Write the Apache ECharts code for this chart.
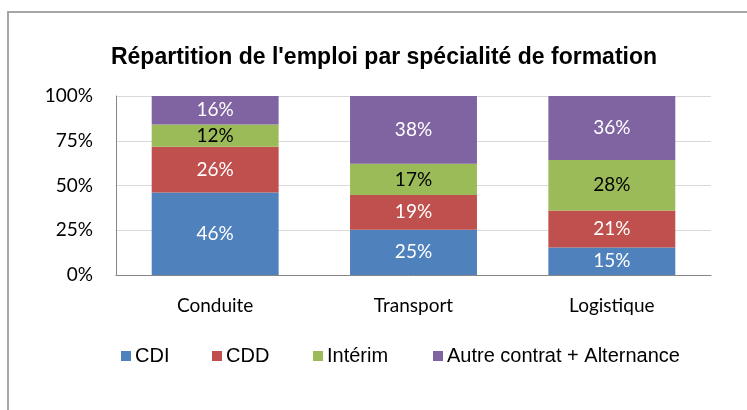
<!DOCTYPE html>
<html><head><meta charset="utf-8">
<script src="https://cdn.jsdelivr.net/npm/echarts@6/dist/echarts.min.js"></script>
<style>
html,body{margin:0;padding:0;background:#fff;overflow:hidden;}
#frame{position:absolute;left:7px;top:11px;width:760px;height:420px;border:2px solid #A6A6A6;box-sizing:border-box;}
#c{position:absolute;left:0;top:0;width:747px;height:410px;}
</style></head>
<body>
<div id="frame"></div>
<div id="c"></div>
<script>
const titleText = "Répartition de l'emploi par spécialité de formation";
const categories = ["Conduite", "Transport", "Logistique"];
const seriesNames = ["CDI", "CDD", "Intérim", "Autre contrat + Alternance"];
const cdi = [46.1, 25.3, 15.4];
const cdd = [25.6, 19.4, 20.6];
const interim = [12.4, 17.4, 28.2];
const autre = [15.9, 37.9, 35.8];
const yTicks = [0, 25, 50, 75, 100];
const colors = ["#4F81BD", "#C0504D", "#9BBB59", "#8064A2"];
const labelColors = ["#FFFFFF", "#FFFFFF", "#000000", "#FFFFFF"];
const values = [cdi, cdd, interim, autre];
const legendLefts = [116, 207, 308, 428];

const chart = echarts.init(document.getElementById('c'));
const lblFont = 'Lato, "Open Sans", sans-serif';
chart.setOption({
  animation: false,
  title: {
    text: titleText, left: 379, top: 41, textAlign: 'center',
    textStyle: {fontFamily: '"Liberation Sans", Arial, sans-serif', fontWeight: 'bold', fontSize: 23, color: '#000'}
  },
  legend: seriesNames.map((n, i) => ({
    data: [n], left: legendLefts[i], top: 341, icon: 'rect', itemWidth: 10, itemHeight: 10, itemGap: 0,
    selectedMode: false,
    textStyle: {fontFamily: '"Liberation Sans", Arial, sans-serif', fontSize: 20, color: '#000', padding: [0,0,0,-1]}
  })),
  grid: {left: 116, top: 96, right: 36, bottom: 135},
  xAxis: {
    type: 'category', data: categories,
    axisLine: {lineStyle: {color: '#868686', width: 1}},
    axisTick: {show: false},
    axisLabel: {fontFamily: lblFont, fontSize: 19, color: '#000', margin: 21}
  },
  yAxis: {
    type: 'value', min: 0, max: 100, interval: 25,
    axisLine: {show: true, lineStyle: {color: '#868686', width: 1}},
    axisTick: {show: false},
    splitLine: {lineStyle: {color: '#D9D9D9', width: 1}},
    axisLabel: {fontFamily: lblFont, fontSize: 19, color: '#000', margin: 23,
      formatter: v => yTicks.includes(v) ? v + '%' : ''}
  },
  series: seriesNames.map((n, i) => ({
    name: n, type: 'bar', stack: 'total', barWidth: '64%',
    itemStyle: {color: colors[i]},
    label: {show: true, position: 'inside', fontFamily: lblFont, fontSize: 19, color: labelColors[i],
      formatter: p => Math.round(p.value) + '%'},
    data: values[i]
  }))
});
</script>
</body></html>
